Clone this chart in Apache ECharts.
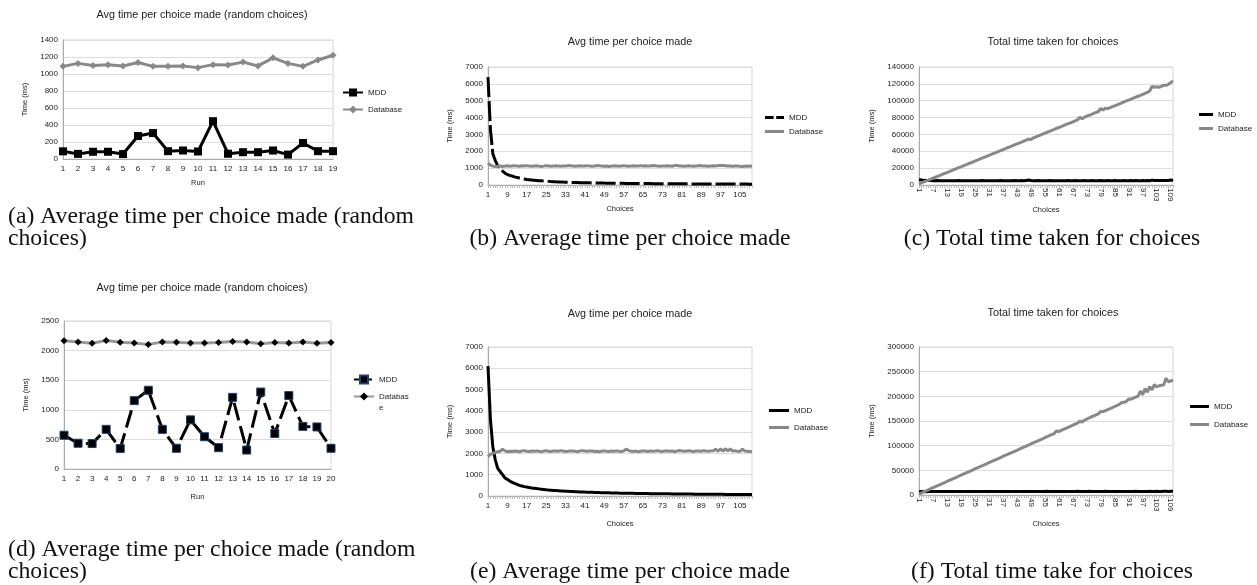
<!DOCTYPE html>
<html>
<head>
<meta charset="utf-8">
<script src="https://cdn.jsdelivr.net/npm/echarts@6/dist/echarts.min.js"></script>
<style>
html,body{margin:0;padding:0;background:#fff;}
#wrap{position:relative;width:1257px;height:585px;overflow:hidden;}
.p{position:absolute;}
</style>
</head>
<body>
<div id="wrap">
<div class="p" id="pa" style="left:0;top:0;width:420px;height:280px"></div>
<div class="p" id="pb" style="left:420px;top:0;width:420px;height:280px"></div>
<div class="p" id="pc" style="left:840px;top:0;width:417px;height:280px"></div>
<div class="p" id="pd" style="left:0;top:280px;width:420px;height:305px"></div>
<div class="p" id="pe" style="left:420px;top:280px;width:420px;height:305px"></div>
<div class="p" id="pf" style="left:840px;top:280px;width:417px;height:305px"></div>
</div>
<script>
// ---------- categories ----------
const runs19 = ['1','2','3','4','5','6','7','8','9','10','11','12','13','14','15','16','17','18','19'];
const runs20 = ['1','2','3','4','5','6','7','8','9','10','11','12','13','14','15','16','17','18','19','20'];
const choices = [1,2,3,4,5,6,7,8,9,10,11,12,13,14,15,16,17,18,19,20,21,22,23,24,25,26,27,28,29,30,
31,32,33,34,35,36,37,38,39,40,41,42,43,44,45,46,47,48,49,50,51,52,53,54,55,56,57,58,59,60,
61,62,63,64,65,66,67,68,69,70,71,72,73,74,75,76,77,78,79,80,81,82,83,84,85,86,87,88,89,90,
91,92,93,94,95,96,97,98,99,100,101,102,103,104,105,106,107,108,109,110];

// ---------- (a) ----------
const aMDD = [90,60,85,85,58,270,305,92,100,88,445,62,80,80,100,52,188,92,92];
const aDB  = [1090,1125,1100,1110,1095,1135,1090,1090,1095,1075,1110,1105,1140,1095,1190,1125,1090,1165,1220];

// ---------- (b) ----------
const bMDD = [6400,3300,1850,1450,1150,950,820,700,620,570,
530,480,440,410,380,350,330,315,300,285,
270,255,245,235,225,215,205,200,192,185,
178,172,168,162,158,153,148,144,140,137,
134,131,128,125,122,119,117,118,113,110,
108,106,104,102,100,98,97,95,93,92,
90,89,88,86,85,84,83,82,80,79,
78,77,76,75,74,73,72,71,70,69,
68,68,67,66,65,64,64,63,62,62,
61,60,60,59,58,58,57,57,56,56,
55,55,54,54,53,53,52,52,51,51];
const bDB = [1300,1180,1120,1100,1110,1130,1100,1120,1140,1110,
1130,1150,1120,1110,1140,1130,1150,1120,1110,1130,
1140,1120,1100,1120,1150,1130,1110,1120,1140,1120,
1110,1130,1120,1140,1150,1120,1110,1130,1140,1120,
1130,1150,1120,1110,1130,1160,1140,1120,1110,1130,
1100,1120,1140,1130,1110,1120,1150,1130,1110,1120,
1140,1130,1120,1150,1130,1140,1120,1130,1160,1140,
1120,1110,1130,1120,1140,1130,1110,1150,1160,1130,
1120,1110,1130,1140,1120,1110,1130,1150,1140,1120,
1130,1110,1120,1140,1130,1150,1160,1150,1140,1130,
1120,1110,1120,1130,1110,1100,1110,1120,1110,1120];

// ---------- (c) ----------
const cMDD = [6400,6000,5500,5400,5300,5200,5100,5100,5200,5100,
5000,5000,5100,5000,5000,5000,5100,5200,5000,5000,
4900,5000,5000,5100,5000,5000,5000,5200,5100,5000,
5000,5000,5100,5000,5000,5200,5000,5000,5100,5000,
5000,5200,5100,5100,5200,5100,5200,6000,5300,5100,
5100,5200,5100,5100,5000,5100,5200,5100,5100,5000,
5100,5000,5100,5100,5200,5100,5100,5200,5100,5100,
5100,5200,5100,5100,5200,5100,5100,5100,5200,5100,
5100,5200,5100,5100,5200,5100,5100,5100,5200,5100,
5100,5200,5100,5200,5100,5100,5200,5100,5200,5100,
5800,5300,5200,5200,5300,5200,5200,5300,6000,5400];
const cDB = [1300,2480,3600,4700,5800,6950,8050,9200,10300,11400,
12550,13700,14800,15900,17100,18200,19300,20500,21600,22700,
23900,25000,26100,27200,28400,29500,30600,31800,32900,34000,
35100,36300,37400,38500,39700,40800,41900,43000,44200,45300,
46400,47600,48700,49800,50900,52100,53200,54600,53800,55800,
56900,58000,59200,60300,61400,62600,63700,64800,65900,67100,
68200,69300,70500,71600,72700,73800,75000,76100,77200,80500,
78600,80400,81600,82700,83800,84900,86100,87200,90800,88900,
91200,90600,91700,92900,94000,95100,96300,97400,98500,99700,
100800,101900,103000,104200,105300,106400,107600,108700,109800,111500,
117000,116000,116500,116000,117000,118500,118000,119500,121500,123500];

// ---------- (d) ----------
const dMDD = [570,435,430,670,345,1155,1330,670,350,830,545,360,1210,320,1300,600,1240,720,710,350];
const dDB  = [2165,2145,2125,2170,2140,2130,2105,2145,2140,2130,2130,2135,2155,2145,2115,2135,2130,2145,2125,2135];

// ---------- (e) ----------
const eMDD = [6100,3600,2300,1700,1300,1150,1000,850,780,700,
640,590,550,500,470,440,420,400,380,365,
350,335,320,305,290,280,272,262,255,248,
240,233,226,220,214,208,202,197,192,188,
183,179,175,171,167,164,160,157,154,151,
148,145,142,140,137,135,133,130,128,126,
124,122,120,118,116,115,113,111,110,108,
107,105,104,102,101,100,98,97,96,95,
94,92,91,90,89,88,87,86,85,84,
83,82,81,80,80,79,78,77,76,76,
75,74,73,73,72,71,71,70,69,69];
const eDB = [1850,1950,2000,2050,2080,2100,2200,2120,2080,2100,
2090,2110,2100,2080,2120,2130,2100,2090,2110,2100,
2120,2100,2080,2110,2130,2100,2090,2120,2110,2100,
2130,2110,2090,2100,2120,2110,2100,2080,2120,2130,
2110,2100,2120,2110,2090,2100,2080,2110,2120,2100,
2090,2110,2100,2120,2100,2090,2110,2200,2140,2100,
2090,2110,2080,2100,2120,2110,2090,2120,2100,2110,
2130,2100,2090,2120,2110,2100,2120,2080,2110,2140,
2120,2100,2110,2130,2100,2090,2120,2110,2100,2130,
2110,2100,2120,2130,2200,2100,2220,2110,2220,2120,
2210,2110,2130,2100,2090,2200,2110,2100,2090,2080];

// ---------- (f) ----------
const fMDD = [6100,7200,6900,6800,7000,6900,7000,7100,7000,6900,
7000,7100,7000,7000,7100,7000,7000,7100,7000,7000,
7100,7000,7000,7100,7000,7100,7000,7000,7100,7000,
7000,7100,7100,7000,7100,7100,7000,7100,7100,7000,
7100,7100,7000,7100,7100,7100,7000,7100,7100,7100,
7100,7000,7100,7200,7100,7500,7100,7100,7200,7100,
7100,7200,7100,7100,7200,7100,7200,7100,7600,7200,
7200,7100,7200,7600,7200,7100,7200,7200,7100,7300,
7700,7200,7300,7200,7200,7300,7200,7300,7200,7300,
7300,7200,7300,7600,7300,7300,7200,7300,7300,7400,
7300,7300,7400,7300,7300,7400,7400,7300,7400,7400];
const fDB = [1850,4000,6300,8400,10500,12700,14900,16900,19000,21100,
23200,25300,27400,29500,31700,33800,35900,38000,40100,42200,
44300,46400,48500,50600,52800,54900,57000,59100,61200,63300,
65400,67500,69600,71700,73900,76000,78100,80200,82300,84400,
86500,88600,90700,92800,95000,97100,99200,101300,103400,105500,
107600,109700,111800,113900,116100,118200,120300,122600,124500,130000,
128700,130800,132900,135000,137200,139300,141400,143500,145600,149500,
147800,151900,154000,156100,158300,160400,162500,164600,169500,168800,
170900,173000,175100,177200,179400,181500,183600,187500,187800,189900,
194500,194100,196200,198300,200500,210500,203500,215500,208500,219500,
213000,224000,219000,221500,222500,223000,236500,229500,231000,232500];

// ---------- builder ----------
const SANS = 'Liberation Sans, Arial, sans-serif';
const SERIF = 'Liberation Serif, Times New Roman, serif';
const GRAY = '#888888';

function legendCfg(left, top, w, h, gap, data, formatter) {
  const cfg = {
    orient: 'vertical', left: left, top: top, itemWidth: w, itemHeight: h, itemGap: gap,
    symbolKeepAspect: false, selectedMode: false, padding: 0,
    textStyle: {fontFamily: SANS, fontSize: 8, color: '#222', lineHeight: 11},
    data: data
  };
  if (formatter) cfg.formatter = formatter;
  return cfg;
}

function build(id, o) {
  const chart = echarts.init(document.getElementById(id), null, {renderer: 'canvas'});
  chart.setOption({
    animation: false,
    backgroundColor: '#ffffff',
    title: {
      text: o.title, left: o.tx, top: o.ty, textAlign: 'center', padding: 0,
      textStyle: {fontFamily: SANS, fontSize: 10.8, fontWeight: 'normal', color: '#222'}
    },
    legend: o.legend,
    grid: {left: o.g[0], top: o.g[1], width: o.g[2], height: o.g[3], show: true,
           borderColor: '#d6d6d6', borderWidth: 1, containLabel: false},
    xAxis: {
      type: 'category', data: o.cats, boundaryGap: false,
      name: o.xname, nameLocation: 'middle', nameGap: o.xng,
      nameTextStyle: {fontFamily: SANS, fontSize: 7.5, color: '#222'},
      axisLine: {lineStyle: {color: '#aaaaaa', width: 1}},
      axisTick: {show: o.ticks, interval: 0, length: 3, lineStyle: {color: '#bbbbbb'}},
      axisLabel: {interval: o.li, rotate: o.rot || 0, fontFamily: SANS, fontSize: 8, color: '#222', margin: o.lm || 6},
      splitLine: {show: false}
    },
    yAxis: {
      type: 'value', min: 0, max: o.ymax, interval: o.yint,
      name: 'Time (ms)', nameLocation: 'middle', nameGap: o.yng, nameRotate: 90,
      nameTextStyle: {fontFamily: SANS, fontSize: 7.5, color: '#222'},
      axisLine: {show: true, lineStyle: {color: '#aaaaaa', width: 1}},
      axisTick: {show: false},
      axisLabel: {fontFamily: SANS, fontSize: 8, color: '#222', margin: 5,
                  formatter: function (v) { return String(v); }},
      splitLine: {lineStyle: {color: '#dcdcdc', width: 1}}
    },
    graphic: [{
      type: 'text', x: o.cx, y: o.cy, silent: true,
      style: {text: o.caption, fontFamily: SERIF, fontSize: 23.7, fill: '#111',
              textAlign: o.calign, textVerticalAlign: 'top', lineHeight: 22}
    }],
    series: o.series
  });
}

const dashIcon = 'path://M0,0h10v3h-10z M13,0h9v3h-9z';

// (a)
build('pa', {
  title: 'Avg time per choice made (random choices)', tx: 202, ty: 10,
  legend: legendCfg(342, 87, 20, 10, 6, ['MDD', 'Database']),
  g: [63, 40, 270, 119], cats: runs19, xname: 'Run', xng: 20, ticks: false, li: 0,
  ymax: 1400, yint: 200, yng: 30,
  caption: '(a) Average time per choice made (random\nchoices)', cx: 8, cy: 206, calign: 'left',
  series: [
    {name: 'MDD', type: 'line', data: aMDD, symbol: 'rect', symbolSize: 8,
     lineStyle: {color: '#000', width: 3}, itemStyle: {color: '#000'}},
    {name: 'Database', type: 'line', data: aDB, symbol: 'diamond', symbolSize: 7,
     lineStyle: {color: GRAY, width: 3}, itemStyle: {color: GRAY}}
  ]
});

// (b)
build('pb', {
  title: 'Avg time per choice made', tx: 210, ty: 37,
  legend: legendCfg(345, 112, 19, 3, 3, [{name: 'MDD', icon: dashIcon}, {name: 'Database', icon: 'rect'}]),
  g: [68, 67, 264, 118], cats: choices, xname: 'Choices', xng: 20, ticks: true, li: 7,
  ymax: 7000, yint: 1000, yng: 33,
  caption: '(b) Average time per choice made', cx: 210, cy: 228, calign: 'center',
  series: [
    {name: 'MDD', type: 'line', data: bMDD, symbol: 'none',
     lineStyle: {color: '#000', width: 3, type: [20, 4]}, itemStyle: {color: '#000'}},
    {name: 'Database', type: 'line', data: bDB, symbol: 'none',
     lineStyle: {color: GRAY, width: 3}, itemStyle: {color: GRAY}}
  ]
});

// (c)
build('pc', {
  title: 'Total time taken for choices', tx: 213, ty: 37,
  legend: legendCfg(359, 109, 14, 3, 3, [{name: 'MDD', icon: 'rect'}, {name: 'Database', icon: 'rect'}]),
  g: [79, 67, 254, 118], cats: choices, xname: 'Choices', xng: 21, ticks: true, li: 5, rot: -90, lm: 3,
  ymax: 140000, yint: 20000, yng: 41,
  caption: '(c) Total time taken for choices', cx: 212, cy: 228, calign: 'center',
  series: [
    {name: 'MDD', type: 'line', data: cMDD, symbol: 'none',
     lineStyle: {color: '#000', width: 3}, itemStyle: {color: '#000'}},
    {name: 'Database', type: 'line', data: cDB, symbol: 'none',
     lineStyle: {color: GRAY, width: 3}, itemStyle: {color: GRAY}}
  ]
});

// (d)
build('pd', {
  title: 'Avg time per choice made (random choices)', tx: 202, ty: 3,
  legend: [
    legendCfg(353, 94, 20, 10, 0, ['MDD']),
    legendCfg(353, 100, 20, 10, 0, ['Database'], function (name) { return ' \nDatabas\ne'; })
  ],
  g: [64, 41, 267, 148], cats: runs20, xname: 'Run', xng: 24, ticks: false, li: 0,
  ymax: 2500, yint: 500, yng: 31,
  caption: '(d) Average time per choice made (random\nchoices)', cx: 8, cy: 259, calign: 'left',
  series: [
    {name: 'MDD', type: 'line', data: dMDD, symbol: 'rect', symbolSize: 8,
     lineStyle: {color: '#000', width: 3, type: [18, 6]},
     itemStyle: {color: '#000', borderColor: '#1f3f6e', borderWidth: 1}},
    {name: 'Database', type: 'line', data: dDB, symbol: 'diamond', symbolSize: 7,
     lineStyle: {color: '#999999', width: 3}, itemStyle: {color: '#000'}}
  ]
});

// (e)
build('pe', {
  title: 'Avg time per choice made', tx: 210, ty: 29,
  legend: legendCfg(349, 125, 20, 3, 6, [{name: 'MDD', icon: 'rect'}, {name: 'Database', icon: 'rect'}]),
  g: [68, 67, 264, 149], cats: choices, xname: 'Choices', xng: 24, ticks: true, li: 7,
  ymax: 7000, yint: 1000, yng: 32,
  caption: '(e) Average time per choice made', cx: 210, cy: 281, calign: 'center',
  series: [
    {name: 'MDD', type: 'line', data: eMDD, symbol: 'none',
     lineStyle: {color: '#000', width: 3}, itemStyle: {color: '#000'}},
    {name: 'Database', type: 'line', data: eDB, symbol: 'none',
     lineStyle: {color: GRAY, width: 3}, itemStyle: {color: GRAY}}
  ]
});

// (f)
build('pf', {
  title: 'Total time taken for choices', tx: 213, ty: 28,
  legend: legendCfg(350, 121, 19, 3, 7, [{name: 'MDD', icon: 'rect'}, {name: 'Database', icon: 'rect'}]),
  g: [79, 67, 254, 148], cats: choices, xname: 'Choices', xng: 25, ticks: true, li: 5, rot: -90, lm: 3,
  ymax: 300000, yint: 50000, yng: 41,
  caption: '(f) Total time take for choices', cx: 212, cy: 281, calign: 'center',
  series: [
    {name: 'MDD', type: 'line', data: fMDD, symbol: 'none',
     lineStyle: {color: '#000', width: 3}, itemStyle: {color: '#000'}},
    {name: 'Database', type: 'line', data: fDB, symbol: 'none',
     lineStyle: {color: GRAY, width: 3}, itemStyle: {color: GRAY}}
  ]
});
</script>
</body>
</html>
